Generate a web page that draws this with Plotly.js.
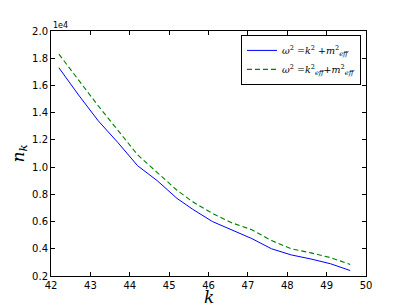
<!DOCTYPE html>
<html>
<head>
<meta charset="utf-8">
<script src="https://cdn.plot.ly/plotly-3.0.1.min.js"></script>
<style>html,body{margin:0;padding:0;background:#fff;}#chart{width:407px;height:307px;}</style>
</head>
<body>
<div id="chart"></div>
<script>
// k values
var kValues = [42.2, 42.7, 43.2, 43.7, 44.2, 44.7, 45.2, 45.6, 46.1, 46.6, 47.1, 47.6, 48.1, 48.6, 49.1, 49.6];
// n_k in units of 1e4, omega^2 = k^2 + m_eff^2
var nkPlain = [1.73, 1.53, 1.34, 1.18, 1.01, 0.90, 0.77, 0.69, 0.60, 0.535, 0.475, 0.40, 0.355, 0.325, 0.29, 0.24];
// n_k in units of 1e4, omega^2 = k_eff^2 + m_eff^2
var nkEff = [1.83, 1.64, 1.45, 1.27, 1.09, 0.96, 0.83, 0.745, 0.66, 0.59, 0.54, 0.46, 0.40, 0.37, 0.335, 0.285];
var xTicks = [42, 43, 44, 45, 46, 47, 48, 49, 50];
var yTicks = [0.2, 0.4, 0.6, 0.8, 1.0, 1.2, 1.4, 1.6, 1.8, 2.0];
var yTickText = ["0.2", "0.4", "0.6", "0.8", "1.0", "1.2", "1.4", "1.6", "1.8", "2.0"];
var xLabel = '<i>k</i>';
var yLabel = '<i>n</i><sub><i>k</i></sub>';
var name1 = "<i>ω</i><sup>2</sup> =<i>k</i><sup>2</sup> +<i>m</i><sup>2</sup><sub><i>eff</i></sub>";
var name2 = "<i>ω</i><sup>2</sup> =<i>k</i><sup>2</sup><sub><i>eff</i></sub>+<i>m</i><sup>2</sup><sub><i>eff</i></sub>";

var traces = [
  {x: kValues, y: nkPlain, type: 'scatter', mode: 'lines', name: name1,
   line: {color: '#0000ff', width: 1}},
  {x: kValues, y: nkEff, type: 'scatter', mode: 'lines', name: name2,
   line: {color: '#008000', width: 1.1, dash: '5px,3px'}}
];

var axisCommon = {
  showgrid: false, zeroline: false, showline: true, linecolor: '#000', linewidth: 1,
  mirror: 'ticks', ticks: 'inside', ticklen: 4, tickcolor: '#000', tickwidth: 1,
  tickfont: {family: 'DejaVu Sans', size: 10, color: '#000'}
};

var labelFont = {family: 'DejaVu Serif', size: 17, color: '#000'};

var layout = {
  width: 407, height: 307,
  margin: {l: 51, r: 41, t: 31, b: 31, pad: 0},
  paper_bgcolor: '#fff', plot_bgcolor: '#fff',
  showlegend: true,
  xaxis: Object.assign({}, axisCommon, {
    range: [42, 50], tickvals: xTicks, ticktext: xTicks.map(String)
  }),
  yaxis: Object.assign({}, axisCommon, {
    range: [0.2, 2.0], tickvals: yTicks, ticktext: yTickText
  }),
  legend: {
    x: 0.984, y: 0.984, xanchor: 'right', yanchor: 'top',
    bgcolor: '#fff', bordercolor: '#000', borderwidth: 1,
    font: {family: 'DejaVu Serif', size: 9.5, color: '#000'},
    itemwidth: 30, tracegroupgap: 0
  },
  annotations: [
    {text: '1e4', xref: 'paper', yref: 'paper', x: 0, y: 1, xanchor: 'left', yanchor: 'bottom',
     showarrow: false, font: {family: 'DejaVu Sans', size: 8, color: '#000'}, yshift: -1},
    {text: xLabel, xref: 'paper', yref: 'paper', x: 0.5, y: 0, xanchor: 'center', yanchor: 'bottom',
     yshift: -30, height: 17, borderpad: 0, valign: 'middle', showarrow: false, font: labelFont},
    {text: yLabel, xref: 'paper', yref: 'paper', x: 0, y: 0.5, xanchor: 'center', yanchor: 'middle',
     xshift: -32, textangle: -90, showarrow: false, font: labelFont}
  ]
};

Plotly.newPlot('chart', traces, layout, {displayModeBar: false, staticPlot: true});
</script>
</body>
</html>
